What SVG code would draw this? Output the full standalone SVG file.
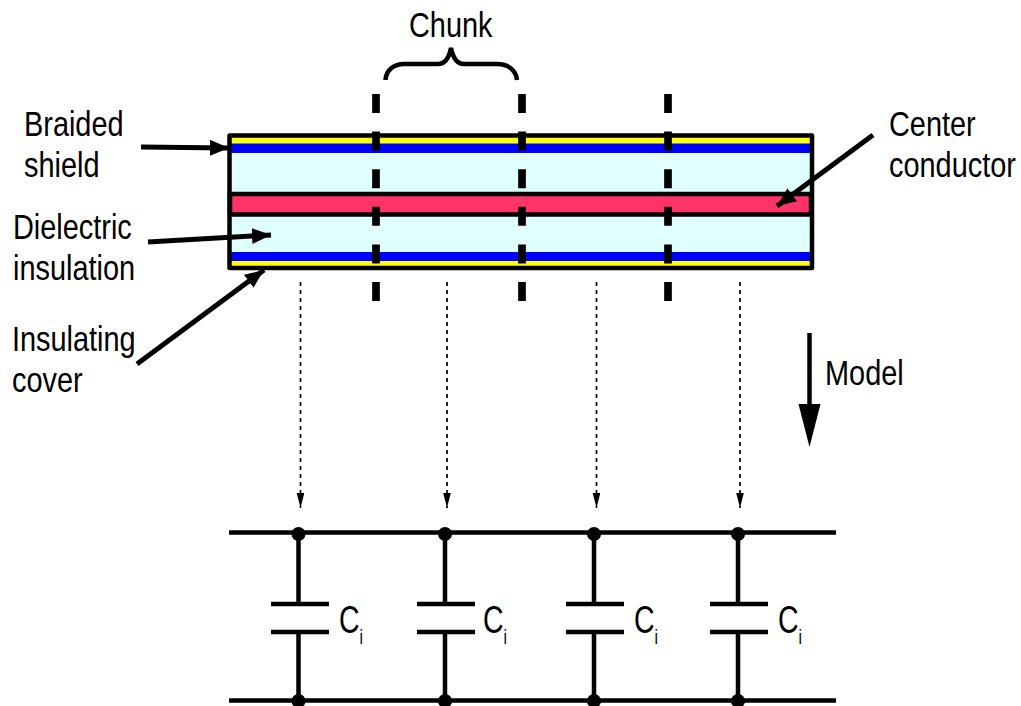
<svg xmlns="http://www.w3.org/2000/svg" width="1021" height="706" viewBox="0 0 1021 706">
<style>
text{font-family:"Liberation Sans",Arial,sans-serif;font-size:36px;fill:#000}
.cap{font-size:39px}
.sub{font-size:21px}
.ln{stroke:#000;stroke-width:4.5;fill:none}
.ptr{stroke:#000;stroke-width:5;fill:none}
.cut{stroke:#000;stroke-width:7.7;stroke-dasharray:19 18.6;fill:none}
.thin{stroke:#000;stroke-width:1.7;stroke-dasharray:4 4;fill:none}
.node{fill:#000}
</style>
<defs>
<marker id="ah" markerUnits="userSpaceOnUse" markerWidth="20" markerHeight="17" refX="19" refY="8" orient="auto"><path d="M0 0L19 8L0 16Z" fill="#000"/></marker>
<marker id="at" markerUnits="userSpaceOnUse" markerWidth="16" markerHeight="8" refX="15" refY="3.800" orient="auto"><path d="M0 0L15 3.800L0 7.600Z" fill="#000"/></marker>
</defs>
<g id="cable">
<rect x="229.500" y="135.500" width="582.500" height="132.500" fill="#e0ffff"/>
<rect x="231" y="137.500" width="580" height="6" fill="#ffff00"/>
<rect x="231" y="261" width="580" height="5.500" fill="#ffff00"/>
<rect x="229" y="143.500" width="582" height="9.500" fill="#0000ff"/>
<rect x="229" y="252" width="582" height="9" fill="#0000ff"/>
<rect x="230" y="194" width="581" height="20.500" fill="#ff3366" stroke="#000" stroke-width="4.500"/>
<rect x="229.500" y="135.500" width="582.500" height="132.500" fill="none" stroke="#000" stroke-width="4.500" stroke-linejoin="round"/>
</g>
<g id="connectors">
<path class="cut" d="M376 94V301M522 94V301M668 94V301"/>
<path class="ln" d="M385.500 80C386 70 394 64 404 64H438C445 64 449 58 451 48C453 58 457 64 464 64H497C508 64 516 70 517 80"/>
<path class="ptr" d="M141 147L229 148" marker-end="url(#ah)"/>
<path class="ptr" d="M148 242L271 235" marker-end="url(#ah)"/>
<path class="ptr" d="M137 364L264 270" marker-end="url(#ah)"/>
<path class="ptr" d="M873 135L777 206" marker-end="url(#ah)"/>
<path class="thin" d="M300.500 282V508" marker-end="url(#at)"/>
<path class="thin" d="M447 282V508" marker-end="url(#at)"/>
<path class="thin" d="M596.500 282V508" marker-end="url(#at)"/>
<path class="thin" d="M740 282V508" marker-end="url(#at)"/>
<path class="ln" d="M809.500 333V410"/>
<path d="M798.500 404H820.500L809.500 447Z" fill="#000"/>
<path class="ln" d="M229 532.500H836M229 700.500H836"/>
<path class="ln" d="M298.500 532V604M298.500 632V701M271 604H329M271 632H329"/>
<path class="ln" d="M445 532V604M445 632V701M417 604H475M417 632H475"/>
<path class="ln" d="M594 532V604M594 632V701M566 604H624M566 632H624"/>
<path class="ln" d="M738 532V604M738 632V701M710 604H768M710 632H768"/>
</g>
<g id="junctions">
<circle class="node" cx="298.500" cy="534" r="7"/><circle class="node" cx="445" cy="534" r="7"/><circle class="node" cx="594" cy="534" r="7"/><circle class="node" cx="738" cy="534" r="7"/>
<circle class="node" cx="298.500" cy="701" r="7"/><circle class="node" cx="445" cy="701" r="7"/><circle class="node" cx="594" cy="701" r="7"/><circle class="node" cx="738" cy="701" r="7"/>
</g>
<g id="labels">
<text transform="translate(409 37) scale(.803 1)">Chunk</text>
<text transform="translate(24 136) scale(.803 1)">Braided</text>
<text transform="translate(24 177) scale(.803 1)">shield</text>
<text transform="translate(13 239) scale(.803 1)">Dielectric</text>
<text transform="translate(13 280) scale(.803 1)">insulation</text>
<text transform="translate(12 351) scale(.803 1)">Insulating</text>
<text transform="translate(12 392) scale(.803 1)">cover</text>
<text transform="translate(889 136) scale(.803 1)">Center</text>
<text transform="translate(889 177) scale(.803 1)">conductor</text>
<text transform="translate(825 385) scale(.803 1)">Model</text>
<text class="cap" transform="translate(339 633) scale(.73 1)">C<tspan class="sub" dy="11">i</tspan></text>
<text class="cap" transform="translate(483 633) scale(.73 1)">C<tspan class="sub" dy="11">i</tspan></text>
<text class="cap" transform="translate(634 633) scale(.73 1)">C<tspan class="sub" dy="11">i</tspan></text>
<text class="cap" transform="translate(778 633) scale(.73 1)">C<tspan class="sub" dy="11">i</tspan></text>
</g>
</svg>
